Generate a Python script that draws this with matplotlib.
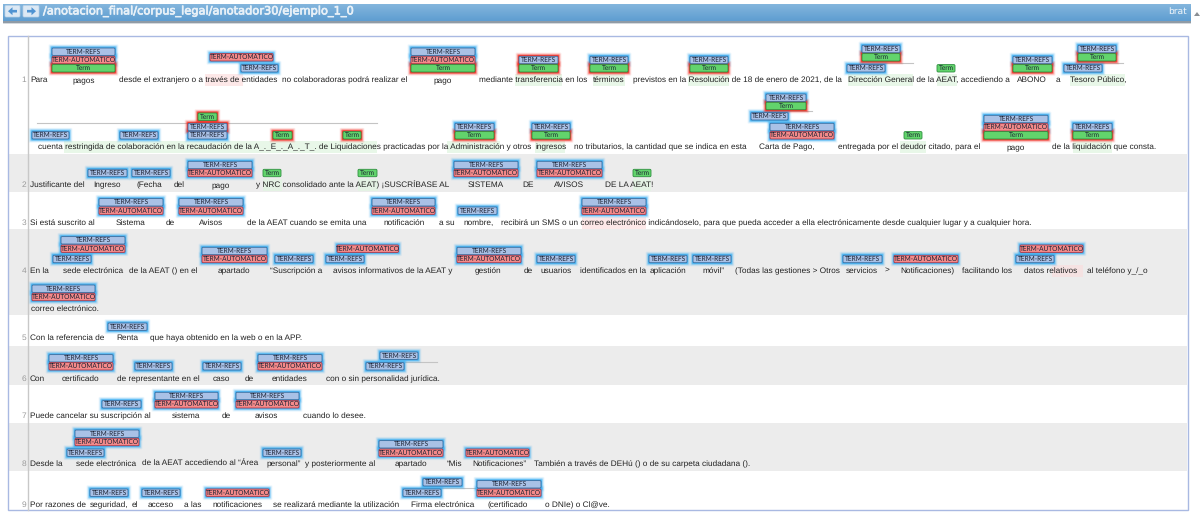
import numpy as np
import matplotlib
matplotlib.use("Agg")
from matplotlib import pyplot as plt
from matplotlib import patheffects
from matplotlib.patches import FancyBboxPatch, Rectangle, FancyArrow

plt.rcParams["text.hinting"] = "no_hinting"

TITLE = "/anotacion_final/corpus_legal/anotador30/ejemplo_1_0"

# grey rows behind the sentences (top, bottom)
grey_rows = [(154, 192), (229, 315), (346, 385), (423, 471)]

# line number, y
line_numbers = [(1, 80), (2, 185), (3, 223), (4, 271), (5, 338), (6, 379), (7, 416), (8, 464), (9, 505)]

# text pieces: y, then (x, text)
text_lines = [
    (80, [(30, "Para"), (72, "pagos"), (119, "desde el extranjero o a través de entidades"),
          (282, "no colaboradoras podrá realizar el"), (433, "pago"),
          (479, "mediante transferencia en los"), (593, "términos"),
          (633, "previstos en la Resolución de 18 de enero de 2021, de la"),
          (848, "Dirección General de la AEAT, accediendo a"), (1017, "ABONO"), (1056, "a"),
          (1070, "Tesoro Público,")]),
    (147, [(38, "cuenta restringida de colaboración en la recaudación de la A_._E_._A_._T_. de Liquidaciones practicadas por la Administración y otros"),
           (535, "ingresos"), (574, "no tributarios, la cantidad que se indica en esta"),
           (759, "Carta de Pago,"), (838, "entregada por el deudor citado, para el"),
           (1006, "pago"), (1052, "de la liquidación que consta.")]),
    (185, [(30, "Justificante del"), (93, "Ingreso"), (136.5, "(Fecha"), (174, "del"), (211, "pago"),
           (256, "y NRC consolidado ante la AEAT) ¡SUSCRÍBASE AL"), (468, "SISTEMA"), (522, "DE"),
           (554, "AVISOS"), (605, "DE LA AEAT!")]),
    (223, [(30, "Si está suscrito al"), (116, "Sistema"), (166, "de"), (199, "Avisos"),
           (247, "de la AEAT cuando se emita una"), (383, "notificación"), (439, "a su"), (463, "nombre,"),
           (501, "recibirá un SMS o un correo electrónico indicándoselo, para que pueda acceder a ella electrónicamente desde cualquier lugar y a cualquier hora.")]),
    (271, [(30, "En la"), (63, "sede electrónica"), (129, "de la AEAT () en el"), (218, "apartado"),
           (270, "“Suscripción a"), (333, "avisos informativos de la AEAT y"), (475, "gestión"), (524, "de"),
           (540, "usuarios"), (580, "identificados en la"), (650, "aplicación"), (702, "móvil”"),
           (735, "(Todas las gestiones > Otros"), (846, "servicios"), (885, ">"), (900, "Notificaciones)"),
           (962, "facilitando los"), (1024, "datos relativos"), (1087, "al teléfono y_/_o")]),
    (309, [(31, "correo electrónico.")]),
    (338, [(30, "Con la referencia de"), (116, "Renta"), (150, "que haya obtenido en la web o en la APP.")]),
    (379, [(30, "Con"), (62, "certificado"), (117, "de representante en el"), (213, "caso"), (245, "de"),
           (272, "entidades"), (326, "con o sin personalidad jurídica.")]),
    (416, [(30, "Puede cancelar su suscripción al"), (172, "sistema"), (222, "de"), (255, "avisos"),
           (303, "cuando lo desee.")]),
    (464, [(30, "Desde la"), (76, "sede electrónica"), (142, "de la AEAT accediendo al “Área"),
           (266, "personal”"), (305, "y posteriormente al"), (395, "apartado"), (447, "“Mis"),
           (472, "Notificaciones”"), (534, "También a través de DEHú () o de su carpeta ciudadana ().")]),
    (505, [(30, "Por razones de"), (90, "seguridad,"), (132, "el"), (148, "acceso"), (184, "a las"),
           (212, "notificaciones"), (273, "se realizará mediante la utilización"), (411, "Firma electrónica"),
           (487, "(certificado"), (545, "o DNIe) o Cl@ve.")]),
]

# faint highlight behind annotated text: x0, x1, y, colour
spans = [
    (205, 243, 80, "#fde8e8"), (515, 562, 80, "#e8f7e8"), (593, 625, 80, "#e8f7e8"), (688, 729, 80, "#e8f7e8"),
    (848, 913, 80, "#e8f7e8"), (937, 957, 80, "#e8f7e8"), (1070, 1125, 80, "#e8f7e8"),
    (64, 377, 147, "#e8f7e8"), (447, 500, 147, "#e8f7e8"), (535, 565, 147, "#e8f7e8"), (900, 926, 147, "#e8f7e8"),
    (1073, 1112, 147, "#e8f7e8"), (263, 282, 185, "#e4f2e4"), (358, 378, 185, "#e4f2e4"), (633, 651, 185, "#e4f2e4"),
    (582, 646, 223, "#fde8e8"), (1052, 1083, 271, "#f5e2e2"),
]

# connector lines above wide annotations: x0, x1, y
links = [(862, 913, 63), (1078, 1123, 63), (37, 377, 122.5), (766, 812, 111), (380, 437, 361.7), (423, 477, 488)]

# annotation labels: x0, x1, y, glow colour
term_refs = [
    (52, 115, 51.7, "b"), (241, 278, 68.3, "b"), (411, 475, 51.7, "b"), (519, 558, 60, "r"), (590, 628, 60, "b"),
    (690, 728, 60, "b"), (847, 885, 68.3, "b"), (862, 900, 49, "b"), (1013, 1052, 60, "b"), (1064, 1102, 68.3, "b"),
    (1078, 1116, 49, "b"),
    (32, 69, 135.3, "b"), (120, 158, 135.3, "b"), (188, 227, 135.3, "b"), (188, 227, 127, "r"),
    (455, 494, 127, "b"), (532, 570, 127, "b"), (751, 788, 116.3, "b"), (766, 806, 97.7, "b"), (770, 834, 127, "b"),
    (984, 1048, 119, "b"), (1073, 1112, 127, "b"),
    (88, 127, 173, "b"), (132, 170, 173, "b"), (188, 252, 165, "b"), (454, 518, 165, "b"), (537, 602, 165, "b"),
    (99, 163, 202.3, "b"), (179, 243, 202.3, "b"), (372, 435, 202.3, "b"), (458, 497, 210.7, "b"), (582, 646, 202.3, "b"),
    (61, 125, 240.3, "b"), (53, 91, 259, "b"), (202, 267, 251, "b"), (275, 313, 259, "b"), (326, 364, 259, "b"),
    (457, 521, 251, "b"), (537, 575, 259, "b"), (649, 687, 259, "b"), (693, 731, 259, "b"), (843, 882, 259, "b"),
    (1016, 1054, 259, "b"), (32, 95, 288.7, "b"),
    (108, 147, 326.7, "b"),
    (49, 113, 358.3, "b"), (135, 172, 366.3, "b"), (203, 241, 366.3, "b"), (258, 322, 358.3, "b"), (366, 404, 366.3, "b"),
    (380, 418, 355.7, "b"),
    (102, 141, 404.3, "b"), (155, 218, 396, "b"), (236, 299, 396, "b"),
    (75, 139, 433.7, "b"), (67, 104, 452.7, "b"), (263, 301, 452.7, "b"), (379, 443, 444.3, "b"),
    (90, 128, 492.7, "b"), (142, 180, 492.7, "b"), (403, 441, 492.7, "b"), (423, 462, 482.3, "b"), (477, 541, 484.3, "b"),
]
term_automatico = [
    (52, 115, 60, "b"), (210, 273, 57.3, "b"), (411, 475, 60, "b"),
    (770, 834, 135.3, "b"), (984, 1048, 127.3, "b"),
    (188, 252, 173, "b"), (454, 518, 173, "b"), (537, 602, 173, "b"),
    (99, 163, 210.7, "b"), (179, 243, 210.7, "b"), (372, 435, 210.7, "b"), (582, 646, 210.7, "b"),
    (61, 125, 248.7, "b"), (202, 267, 259, "b"), (337, 398.5, 248.7, "b"), (457, 521, 259, "b"), (894, 958, 259, "b"),
    (1020, 1083, 248.7, "b"), (32, 95, 297, "b"),
    (49, 113, 366.3, "b"), (258, 322, 366.3, "b"),
    (155, 218, 404.3, "b"), (236, 299, 404.3, "b"),
    (75, 139, 442, "b"), (379, 443, 452.7, "b"), (466, 529, 452.7, "b"),
    (206, 269, 492.7, "b"), (477, 541, 492.7, "b"),
]
term = [
    (52, 115, 68.3, "r"), (411, 475, 68.3, "r"), (519, 558, 68.3, "r"), (590, 628, 68.3, "r"), (690, 728, 68.3, "r"),
    (862, 900, 57.3, "r"), (937, 955, 68.3, ""), (1013, 1052, 68.3, "r"), (1078, 1116, 57.3, "r"),
    (198, 217, 116.7, "r"), (273, 292, 135.3, "r"), (343, 361, 135.3, "r"), (455, 494, 135.3, "r"), (532, 570, 135.3, "r"),
    (766, 806, 106, "r"), (904, 922, 135.3, ""), (984, 1048, 135.3, "r"), (1073, 1112, 135.3, "r"),
    (263, 281, 173, ""), (358, 377, 173, ""), (633, 651, 173, ""),
]

label_styles = {
    "TERM-REFS": ("#a9c1e6", "#3a6ea0", term_refs),
    "TERM-AUTOMATICO": ("#f58a8a", "#a83848", term_automatico),
    "Term": ("#62d46c", "#2f8f40", term),
}
glow_colours = {"b": "#3fb0f2", "r": "#f2281e"}


def rbox(ax, x0, y0, x1, y1, **kw):
    ax.add_patch(FancyBboxPatch((x0, y0), x1 - x0, y1 - y0, boxstyle="round,pad=0,rounding_size=1.2", **kw))


fig = plt.figure(figsize=(12, 5.19), dpi=100)
ax = fig.add_axes([0, 0, 1, 1])

# header bar
grad = np.linspace(0, 1, 64).reshape(-1, 1)
top = np.array([0x84, 0xb6, 0xdd]) / 255
bottom = np.array([0x5e, 0x9d, 0xd1]) / 255
ax.imshow(top + grad[:, :, None] * (bottom - top), extent=(3, 1191, 21, 4), aspect="auto", zorder=1)
ax.add_patch(Rectangle((3, 21), 1188, 1.5, color="#8f9ba6", lw=0, zorder=1))
ax.add_patch(Rectangle((3, 22.5), 1188, 1, color="#d5d9dd", lw=0, zorder=1))
rbox(ax, 5, 5.5, 20, 17, fc="#dbe8f4", ec="#b8d0e6", lw=0.5, zorder=2)
rbox(ax, 23, 5.5, 39, 17, fc="#dbe8f4", ec="#b8d0e6", lw=0.5, zorder=2)
ax.add_patch(FancyArrow(17, 11.2, -9, 0, width=2.6, head_width=8, head_length=4.5, length_includes_head=True,
                        color="#4f93d2", lw=0, zorder=3))
ax.add_patch(FancyArrow(27, 11.2, 9, 0, width=2.6, head_width=8, head_length=4.5, length_includes_head=True,
                        color="#4f93d2", lw=0, zorder=3))
title = ax.text(43, 11.5, TITLE, family="DejaVu Sans", fontsize=8.2, color="#e8f1f8", va="center", zorder=3)
title.set_path_effects([patheffects.withStroke(linewidth=0.5, foreground="#e8f1f8")])
ax.text(1168, 11.5, "brat", family="DejaVu Sans", fontsize=6.6, color="#f4f8fb", va="center", zorder=3)
ax.fill([1194, 1200, 1197], [16, 16, 12], color="#8a8f94", lw=0, zorder=3)

# panel and rows
for y0, y1 in grey_rows:
    ax.add_patch(Rectangle((8, y0), 1179, y1 - y0, color="#ececec", lw=0, zorder=1))
ax.add_patch(Rectangle((7.5, 35.5), 1180, 474.5, fc="none", ec="#a9b9e2", lw=1, zorder=2))
ax.plot([27.5, 27.5], [36, 510], color="#c8c8c8", lw=1, zorder=2)
for num, y in line_numbers:
    ax.text(26, y, str(num), family="Liberation Sans", fontsize=6, color="#9a9a9a", ha="right", va="center", zorder=3)

for x0, x1, y, col in spans:
    ax.add_patch(Rectangle((x0, y - 6), x1 - x0, 12, color=col, lw=0, zorder=2))
for x0, x1, y in links:
    ax.plot([x0, x1], [y, y], color="#c4c4c4", lw=0.8, zorder=2)

for y, pieces in text_lines:
    for x, s in pieces:
        ax.text(x, y, s, family="Liberation Sans", fontsize=5.98, color="#222222", va="center", zorder=3)

# glow first so that stacked labels stay on top of it
for name, (fill, edge, boxes) in label_styles.items():
    for x0, x1, y, glow in boxes:
        if glow:
            for pad, alpha in [(3.4, 0.1), (2.6, 0.18), (1.8, 0.4), (1.0, 0.8)]:
                rbox(ax, x0 - pad, y - 4 - pad, x1 + pad, y + 4 + pad, fc=glow_colours[glow], ec="none", alpha=alpha, zorder=4)
for name, (fill, edge, boxes) in label_styles.items():
    for x0, x1, y, glow in boxes:
        rbox(ax, x0, y - 3.7, x1, y + 3.7, fc=fill, ec=edge, lw=0.6, zorder=5)
        ax.text((x0 + x1) / 2, y + 0.1, name, family="Lato", fontsize=4.7, color="#1c2233",
                ha="center", va="center", zorder=6)

ax.set_xlim(0, 1200)
ax.set_ylim(519, 0)
ax.axis("off")
fig.savefig("out.png", dpi=100)
